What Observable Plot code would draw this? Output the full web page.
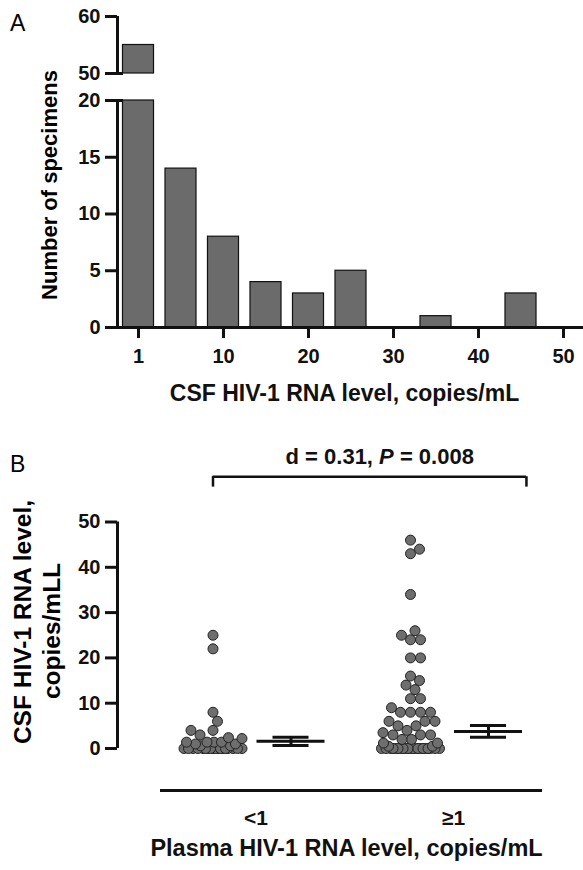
<!DOCTYPE html>
<html><head><meta charset="utf-8">
<script src="https://cdn.jsdelivr.net/npm/d3@7"></script>
<script src="https://cdn.jsdelivr.net/npm/@observablehq/plot@0.6"></script>
<style>
body{margin:0;background:#fff;}
#root{position:relative;width:583px;height:870px;overflow:hidden;}
</style></head><body><div id="root"></div>
<script>
// ---------- DATA ----------
// Panel A: histogram of CSF HIV-1 RNA levels
const binLabels = [1, 5, 10, 15, 20, 25, 30, 35, 40, 45, 50];
const binCounts = [55, 14, 8, 4, 3, 5, 0, 1, 0, 3, 0];
const xTickLabels = [1, 10, 20, 30, 40, 50];
const yTicksLower = [0, 5, 10, 15, 20];
const yTicksUpper = [50, 60];
const axisLabelA = "CSF HIV-1 RNA level, copies/mL";
const yLabelA = "Number of specimens";

// Panel B: CSF levels by plasma group
const groups = ["<1", "≥1"];
const valuesLow = [25, 22, 8, 6, 4, 4, 3, 2.4, 2.2, 1.4, 1.4, 1.4, 1.4, 1, 1, 0.6, 0.6,
  0, 0, 0, 0, 0, 0, 0, 0, 0, 0, 0, 0, 0, 0, 0, 0, 0, 0];
const valuesHigh = [46, 44, 43, 34, 26, 25, 24, 24, 20, 20, 16, 15, 14, 13, 11, 11, 9,
  8, 8, 8, 8, 6, 6, 6, 5, 5, 4, 3.5, 3, 3, 3, 2, 2, 1.2, 1.2, 0.5, 0.5,
  0, 0, 0, 0, 0, 0, 0, 0, 0, 0, 0, 0, 0, 0, 0, 0, 0, 0, 0, 0, 0];
const errMean = [1.6, 3.75];
const errLow = [0.66, 2.5];
const errHigh = [2.5, 5.1];
const yTicksB = [0, 10, 20, 30, 40, 50];
const statParts = ["d = 0.31, ", "P", " = 0.008"];
const xLabelB = "Plasma HIV-1 RNA level, copies/mL";
const yLabelB = ["CSF HIV-1 RNA level,", "copies/mLL"];

// ---------- STYLE / LAYOUT ----------
const FONT = "'Liberation Sans', Arial, Helvetica, sans-serif";
const W = 583;
const BAR_FILL = "#6b6b6b", INK = "#111";
const root = document.getElementById("root");
const TICK = 12, AXW = 3, TICK_FS = 20;

// manual y axis: line, ticks, labels; x0 = axis x in data units, k = px per x unit
function yAxis(ticks, x0, k, extend) {
  return [
    Plot.ruleX([x0], {y1: ticks[0], y2: ticks[ticks.length - 1], strokeWidth: AXW, stroke: INK}),
    Plot.ruleY(ticks, {y: d => d, x1: x0 - TICK / k, x2: d => x0 + (extend && extend.includes(d) ? 6 / k : 0), strokeWidth: AXW, stroke: INK}),
    Plot.text(ticks, {x: x0, y: d => d, text: d => String(d), dx: -(TICK + 5), textAnchor: "end", lineAnchor: "middle",
      fontSize: TICK_FS, fontWeight: "bold", fontFamily: FONT, fill: INK})
  ];
}

function place(svg, top) {
  svg.style.position = "absolute";
  svg.style.left = "0px";
  svg.style.top = top + "px";
  svg.style.overflow = "visible";
  svg.style.fontFamily = FONT;
  root.appendChild(svg);
}

// Panel A x layout (linear index scale, bins centred on integers)
const A_ML = 117, A_STEP = 42.5, A_FIRST = 21;
const A_XDOMAIN = [-A_FIRST / A_STEP, (W - A_ML - A_FIRST) / A_STEP];
const BAR_HALF = 0.365;
const bars = binLabels.map((b, i) => ({i, bin: b, count: binCounts[i]}));

// Upper segment of broken axis (50-60)
const upper = Plot.plot({
  width: W, height: 80, marginLeft: A_ML, marginRight: 0, marginTop: 16, marginBottom: 7,
  x: {domain: A_XDOMAIN, axis: null},
  y: {domain: [yTicksUpper[0], yTicksUpper[yTicksUpper.length - 1]], axis: null},
  marks: [
    Plot.rectY(bars.filter(d => d.count > yTicksUpper[0]), {
      x1: d => d.i - BAR_HALF, x2: d => d.i + BAR_HALF,
      y1: yTicksUpper[0], y2: "count", fill: BAR_FILL, stroke: INK, strokeWidth: 1.2
    }),
    ...yAxis(yTicksUpper, A_XDOMAIN[0], A_STEP, [yTicksUpper[0]])
  ]
});
place(upper, 0);

// Lower segment (0-20)
const yMaxLower = yTicksLower[yTicksLower.length - 1];
const A_KY = (330 - 15 - 88) / yMaxLower;
const xTickIdx = xTickLabels.map(v => binLabels.indexOf(v));
const lower = Plot.plot({
  width: W, height: 330, marginLeft: A_ML, marginRight: 0, marginTop: 15, marginBottom: 88,
  x: {domain: A_XDOMAIN, axis: null},
  y: {domain: [0, yMaxLower], axis: null},
  marks: [
    Plot.rectY(bars.filter(d => d.count > 0), {
      x1: d => d.i - BAR_HALF, x2: d => d.i + BAR_HALF,
      y1: 0, y2: d => Math.min(d.count, yMaxLower), fill: BAR_FILL, stroke: INK, strokeWidth: 1.2
    }),
    Plot.ruleY([0], {strokeWidth: AXW, stroke: INK}),
    ...yAxis(yTicksLower, A_XDOMAIN[0], A_STEP, [yMaxLower]),
    Plot.ruleX(xTickIdx, {x: d => d, y1: -11 / A_KY, y2: 0, strokeWidth: AXW, stroke: INK}),
    Plot.text(xTickIdx, {x: d => d, y: 0, text: i => String(binLabels[i]), dy: 21, lineAnchor: "top",
      fontSize: TICK_FS, fontWeight: "bold", fontFamily: FONT, fill: INK}),
    Plot.text([axisLabelA], {frameAnchor: "bottom", lineAnchor: "middle", dy: 66, dx: -6,
      fontSize: 23, fontWeight: "bold", fontFamily: FONT, fill: INK})
  ]
});
place(lower, 85);

// ---------- Panel B ----------
const B_TOP = 440, B_H = 430, B_MT = 81.5, B_MB = 122, B_ML = 160, B_MR = 41;
const G_STEP = 197.5, G_FIRST = 91.5;
const B_XDOMAIN = [1 - G_FIRST / G_STEP, 1 + (W - B_ML - B_MR - G_FIRST) / G_STEP];
const yMaxB = yTicksB[yTicksB.length - 1];
const kX = G_STEP, kY = (B_H - B_MT - B_MB) / yMaxB;
const POINT_OFF = -39 / G_STEP, ERR_OFF = 39 / G_STEP;
const MEAN_HALF = 34 / G_STEP, CAP_HALF = 18 / G_STEP;
const R = 5, SWARM_HALF = 29;
const B_AXIS_X = B_XDOMAIN[0] - 43 / G_STEP;

function swarm(vals) {
  const idx = vals.map((v, i) => i).sort((a, b) => vals[a] - vals[b]);
  const placed = [], off = new Array(vals.length);
  const cands = [0];
  for (let s = 0.5; s <= SWARM_HALF; s += 0.5) cands.push(s, -s);
  for (const i of idx) {
    const py = vals[i] * kY;
    let best = 0, bestD = -1;
    for (const c of cands) {
      let minD = Infinity;
      for (const p of placed) { const d = Math.hypot(c - p.x, py - p.y); if (d < minD) minD = d; }
      if (minD >= 2 * R - 0.01) { best = c; break; }
      if (minD > bestD + 1e-6) { bestD = minD; best = c; }
    }
    off[i] = best; placed.push({x: best, y: py});
  }
  return off;
}
const points = [];
[valuesLow, valuesHigh].forEach((vals, g) => {
  const off = swarm(vals);
  vals.forEach((v, i) => points.push({gx: g + 1, v, off: off[i] / kX}));
});
points.sort((a, b) => a.v - b.v);
const err = groups.map((g, i) => ({gx: i + 1, mean: errMean[i], lo: errLow[i], hi: errHigh[i]}));

const BRACKET_Y = 60, BRACKET_DROP = 2.3;
const bx1 = 1 + POINT_OFF, bx2 = 2 + ERR_OFF + MEAN_HALF + 0.02;
const statText = statParts.join("");

const panelB = Plot.plot({
  width: W, height: B_H, marginLeft: B_ML, marginRight: B_MR, marginTop: B_MT, marginBottom: B_MB,
  x: {domain: B_XDOMAIN, axis: null},
  y: {domain: [0, yMaxB], axis: null},
  marks: [
    Plot.ruleY([0], {dy: 42, strokeWidth: AXW, stroke: INK}),
    ...yAxis(yTicksB, B_AXIS_X, G_STEP),
    Plot.text([1, 2], {x: d => d, y: 0, text: i => groups[i - 1], dy: 70, dx: 4, lineAnchor: "middle",
      fontSize: 21, fontWeight: "bold", fontFamily: FONT, fill: INK}),
    Plot.ruleY([BRACKET_Y], {x1: bx1, x2: bx2, strokeWidth: 2.5, stroke: INK}),
    Plot.ruleX([bx1, bx2], {x: d => d, y1: BRACKET_Y - BRACKET_DROP, y2: BRACKET_Y, strokeWidth: 2.5, stroke: INK}),
    Plot.text([statText], {x: (bx1 + bx2) / 2, y: BRACKET_Y, dy: -20, dx: 10, lineAnchor: "middle",
      fontSize: 22, fontWeight: "bold", fontFamily: FONT, fill: INK}),
    Plot.dot(points, {x: d => d.gx + POINT_OFF + d.off, y: "v", r: R, fill: "#6e6e6e", stroke: "#222", strokeWidth: 1}),
    Plot.ruleY(err, {y: "mean", x1: d => d.gx + ERR_OFF - MEAN_HALF, x2: d => d.gx + ERR_OFF + MEAN_HALF, strokeWidth: 3, stroke: INK}),
    Plot.ruleY(err, {y: "lo", x1: d => d.gx + ERR_OFF - CAP_HALF, x2: d => d.gx + ERR_OFF + CAP_HALF, strokeWidth: 3, stroke: INK}),
    Plot.ruleY(err, {y: "hi", x1: d => d.gx + ERR_OFF - CAP_HALF, x2: d => d.gx + ERR_OFF + CAP_HALF, strokeWidth: 3, stroke: INK}),
    Plot.ruleX(err, {x: d => d.gx + ERR_OFF, y1: "lo", y2: "hi", strokeWidth: 3, stroke: INK}),
    Plot.text([xLabelB], {frameAnchor: "bottom", lineAnchor: "middle", dy: 100, dx: -5,
      fontSize: 23.5, fontWeight: "bold", fontFamily: FONT, fill: INK})
  ]
});
d3.select(panelB).selectAll("text").filter(function () { return this.textContent === statText; })
  .each(function () {
    const t = d3.select(this); t.text(null);
    t.append("tspan").text(statParts[0]);
    t.append("tspan").attr("font-style", "italic").text(statParts[1]);
    t.append("tspan").text(statParts[2]);
  });
place(panelB, B_TOP);

// ---------- overlay labels ----------
const ov = d3.select(root).append("svg")
  .attr("width", W).attr("height", 870)
  .style("position", "absolute").style("left", "0px").style("top", "0px")
  .style("font-family", FONT).style("pointer-events", "none");
ov.append("text").attr("x", 10).attr("y", 31).attr("font-size", 23).text("A");
ov.append("text").attr("x", 10).attr("y", 472).attr("font-size", 23).text("B");
ov.append("text").attr("transform", "translate(57,185) rotate(-90)").attr("text-anchor", "middle")
  .attr("font-size", 22).attr("font-weight", "bold").text(yLabelA);
ov.append("text").attr("transform", "translate(31,622) rotate(-90)").attr("text-anchor", "middle")
  .attr("font-size", 24.5).attr("font-weight", "bold").text(yLabelB[0]);
ov.append("text").attr("transform", "translate(60,631) rotate(-90)").attr("text-anchor", "middle")
  .attr("font-size", 24.5).attr("font-weight", "bold").text(yLabelB[1]);
</script></body></html>
